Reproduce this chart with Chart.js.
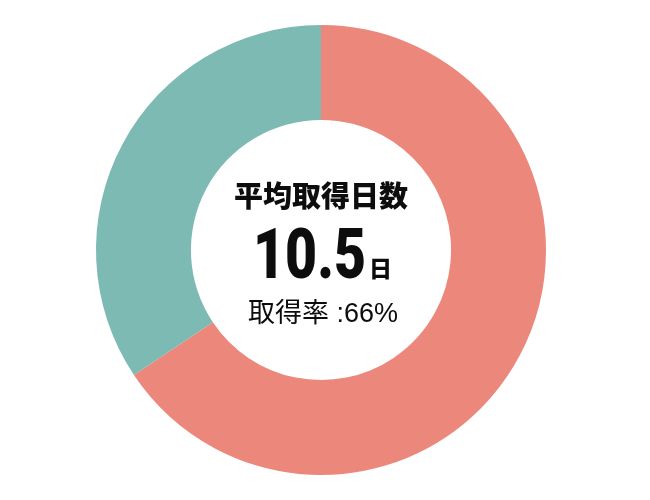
<!DOCTYPE html>
<html>
<head>
<meta charset="utf-8">
<script src="https://cdn.jsdelivr.net/npm/chart.js@4/dist/chart.umd.min.js"></script>
<style>
  html, body { margin: 0; padding: 0; background: #fff; }
  canvas { display: block; }
</style>
</head>
<body>
<canvas id="rateChart" width="650" height="500"></canvas>
<script>
// Data: days taken vs days not taken (10.5 of 16 days -> 66%)
const labels = ['取得日数', '未取得日数'];
const days = [10.5, 5.5];
const segmentColors = ['#ec877c', '#7dbab4'];

// Center label texts
const centerTitle = '平均取得日数';
const centerValue = '10.5';
const centerUnit = '日';
const centerRate = '取得率 :66%';

const ctx = document.getElementById('rateChart').getContext('2d');

// Draws the label block inside the hole of the doughnut
const centerText = {
    id: 'centerText',
    afterDraw(chart) {
        const arc = chart.getDatasetMeta(0).data[0];
        const cx = arc.x, cy = arc.y;
        const c = chart.ctx;
        c.save();
        c.fillStyle = '#0d0d0d';
        c.textAlign = 'center';
        c.textBaseline = 'alphabetic';

        c.font = "900 29px 'Noto Sans CJK JP'";
        c.fillText(centerTitle, cx, cy - 43);

        // big number, squeezed a bit like a condensed face
        c.font = "900 71px Roboto";
        const w = c.measureText(centerValue).width;
        const sx = 113 / w;
        c.save();
        c.translate(cx - 68, cy + 28);
        c.scale(sx, 1);
        c.textAlign = 'left';
        c.fillText(centerValue, 0, 0);
        c.restore();

        c.font = "900 23px 'Noto Sans CJK JP'";
        c.textAlign = 'left';
        c.fillText(centerUnit, cx + 48, cy + 27);

        c.font = "27px 'Liberation Sans', 'Noto Sans CJK JP'";
        c.textAlign = 'left';
        c.fillText(centerRate, cx - 73, cy + 72);
        c.restore();
    }
};

new Chart(ctx, {
    type: 'doughnut',
    data: {
        labels: labels,
        datasets: [{
            data: days,
            backgroundColor: segmentColors,
            borderWidth: 0,
            hoverOffset: 0
        }]
    },
    options: {
        responsive: false,
        animation: false,
        cutout: '57.8%',
        layout: { padding: { top: 25, bottom: 25, left: 0, right: 8 } },
        plugins: {
            legend: { display: false },
            tooltip: { enabled: false }
        }
    },
    plugins: [centerText]
});
</script>
</body>
</html>
